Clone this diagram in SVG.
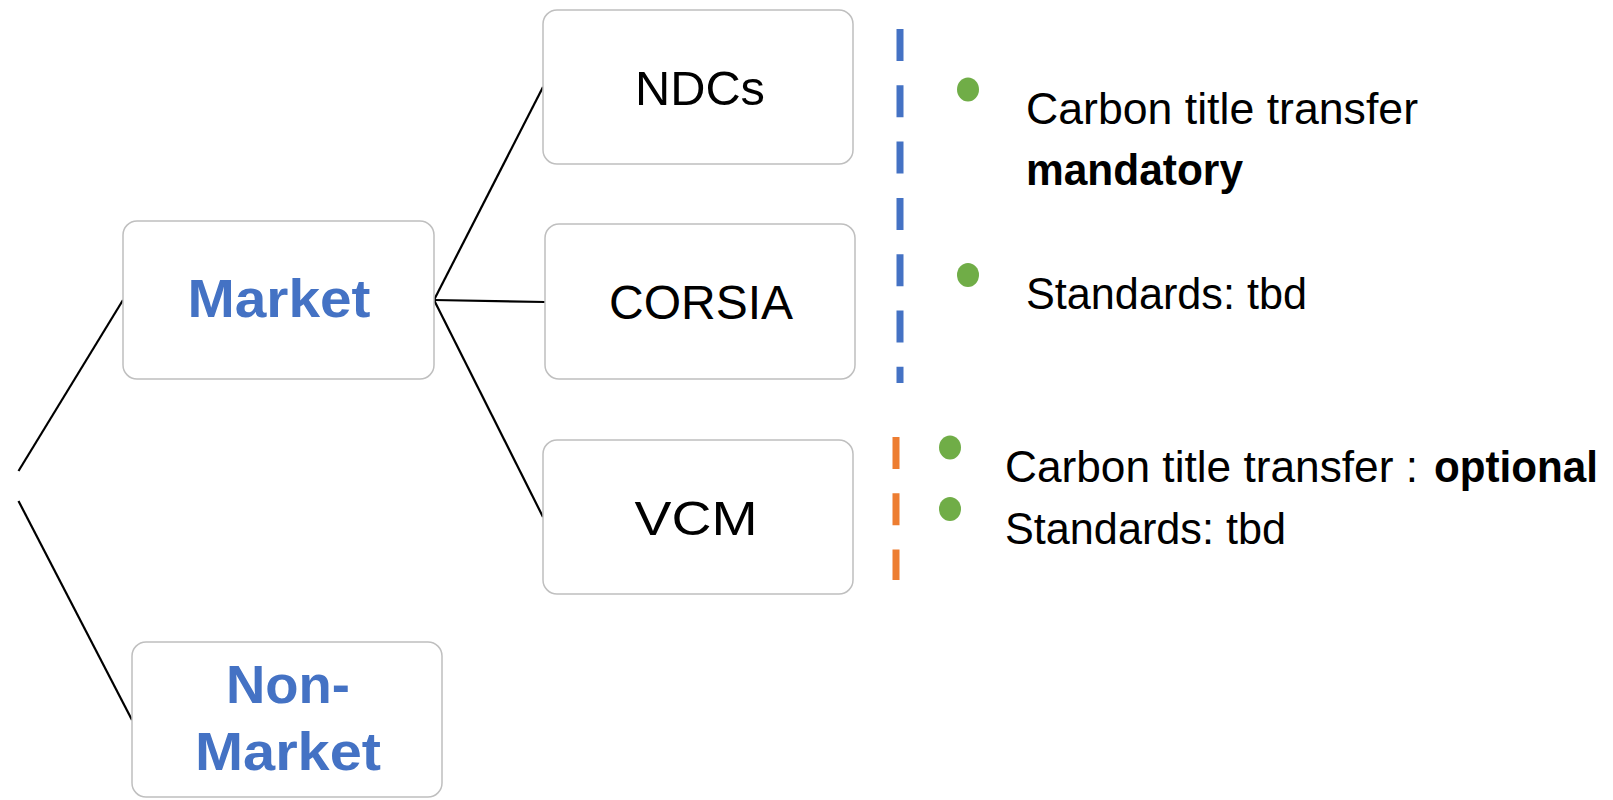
<svg xmlns="http://www.w3.org/2000/svg" width="1613" height="800" viewBox="0 0 1613 800">
<style>
.box{fill:#fff;stroke:#bfbfbf;stroke-width:1.5}
.lbl{font-family:"Liberation Sans",Arial,sans-serif;font-size:48px;fill:#000;text-anchor:middle}
.blue{font-family:"Liberation Sans",Arial,sans-serif;font-size:53px;font-weight:bold;fill:#4472C4;text-anchor:middle}
.body{font-family:"Liberation Sans",Arial,sans-serif;font-size:43.5px;fill:#000}
.b{font-weight:bold}
.conn line{stroke:#000;stroke-width:2.2}
.dot{fill:#70AD47}
</style>
<rect width="1613" height="800" fill="#fff"/>
<g id="connectors" class="conn">
<line x1="18.5" y1="471" x2="123" y2="300"/>
<line x1="18.5" y1="501" x2="132" y2="720"/>
<line x1="434" y1="300" x2="543" y2="87"/>
<line x1="434" y1="300" x2="545" y2="302"/>
<line x1="434" y1="300" x2="543" y2="517"/>
</g>
<g id="market">
<rect class="box" x="123" y="221" width="311" height="158" rx="14"/>
<text class="blue" x="279" y="317" textLength="183" lengthAdjust="spacingAndGlyphs">Market</text>
</g>
<g id="non-market">
<rect class="box" x="132" y="642" width="310" height="155" rx="14"/>
<text class="blue" x="288" y="703" textLength="124" lengthAdjust="spacingAndGlyphs">Non-</text>
<text class="blue" x="288" y="770" textLength="186" lengthAdjust="spacingAndGlyphs">Market</text>
</g>
<g id="ndcs">
<rect class="box" x="543" y="10" width="310" height="154" rx="14"/>
<text class="lbl" x="700" y="105" textLength="130" lengthAdjust="spacingAndGlyphs">NDCs</text>
</g>
<g id="corsia">
<rect class="box" x="545" y="224" width="310" height="155" rx="14"/>
<text class="lbl" x="701" y="319" textLength="184" lengthAdjust="spacingAndGlyphs">CORSIA</text>
</g>
<g id="vcm">
<rect class="box" x="543" y="440" width="310" height="154" rx="14"/>
<text class="lbl" x="696" y="535" textLength="123" lengthAdjust="spacingAndGlyphs">VCM</text>
</g>
<g id="separators">
<line x1="900" y1="29" x2="900" y2="383" stroke="#4472C4" stroke-width="7" stroke-dasharray="32,24.3"/>
<line x1="896" y1="437" x2="896" y2="580" stroke="#ED7D31" stroke-width="7" stroke-dasharray="32,24.3"/>
</g>
<g id="notes-top">
<ellipse class="dot" cx="968" cy="89.5" rx="11" ry="12"/>
<ellipse class="dot" cx="968" cy="275" rx="11" ry="12"/>
<text class="body" x="1026" y="124" textLength="392" lengthAdjust="spacingAndGlyphs">Carbon title transfer</text>
<text class="body b" x="1026" y="185" textLength="217" lengthAdjust="spacingAndGlyphs">mandatory</text>
<text class="body" x="1026" y="309" textLength="281" lengthAdjust="spacingAndGlyphs">Standards: tbd</text>
</g>
<g id="notes-bottom">
<ellipse class="dot" cx="950" cy="447.5" rx="11" ry="12"/>
<ellipse class="dot" cx="950" cy="509" rx="11" ry="12"/>
<text class="body" x="1005" y="482" textLength="413" lengthAdjust="spacingAndGlyphs">Carbon title transfer :</text>
<text class="body b" x="1434" y="482" textLength="164" lengthAdjust="spacingAndGlyphs">optional</text>
<text class="body" x="1005" y="544" textLength="281" lengthAdjust="spacingAndGlyphs">Standards: tbd</text>
</g>
</svg>
